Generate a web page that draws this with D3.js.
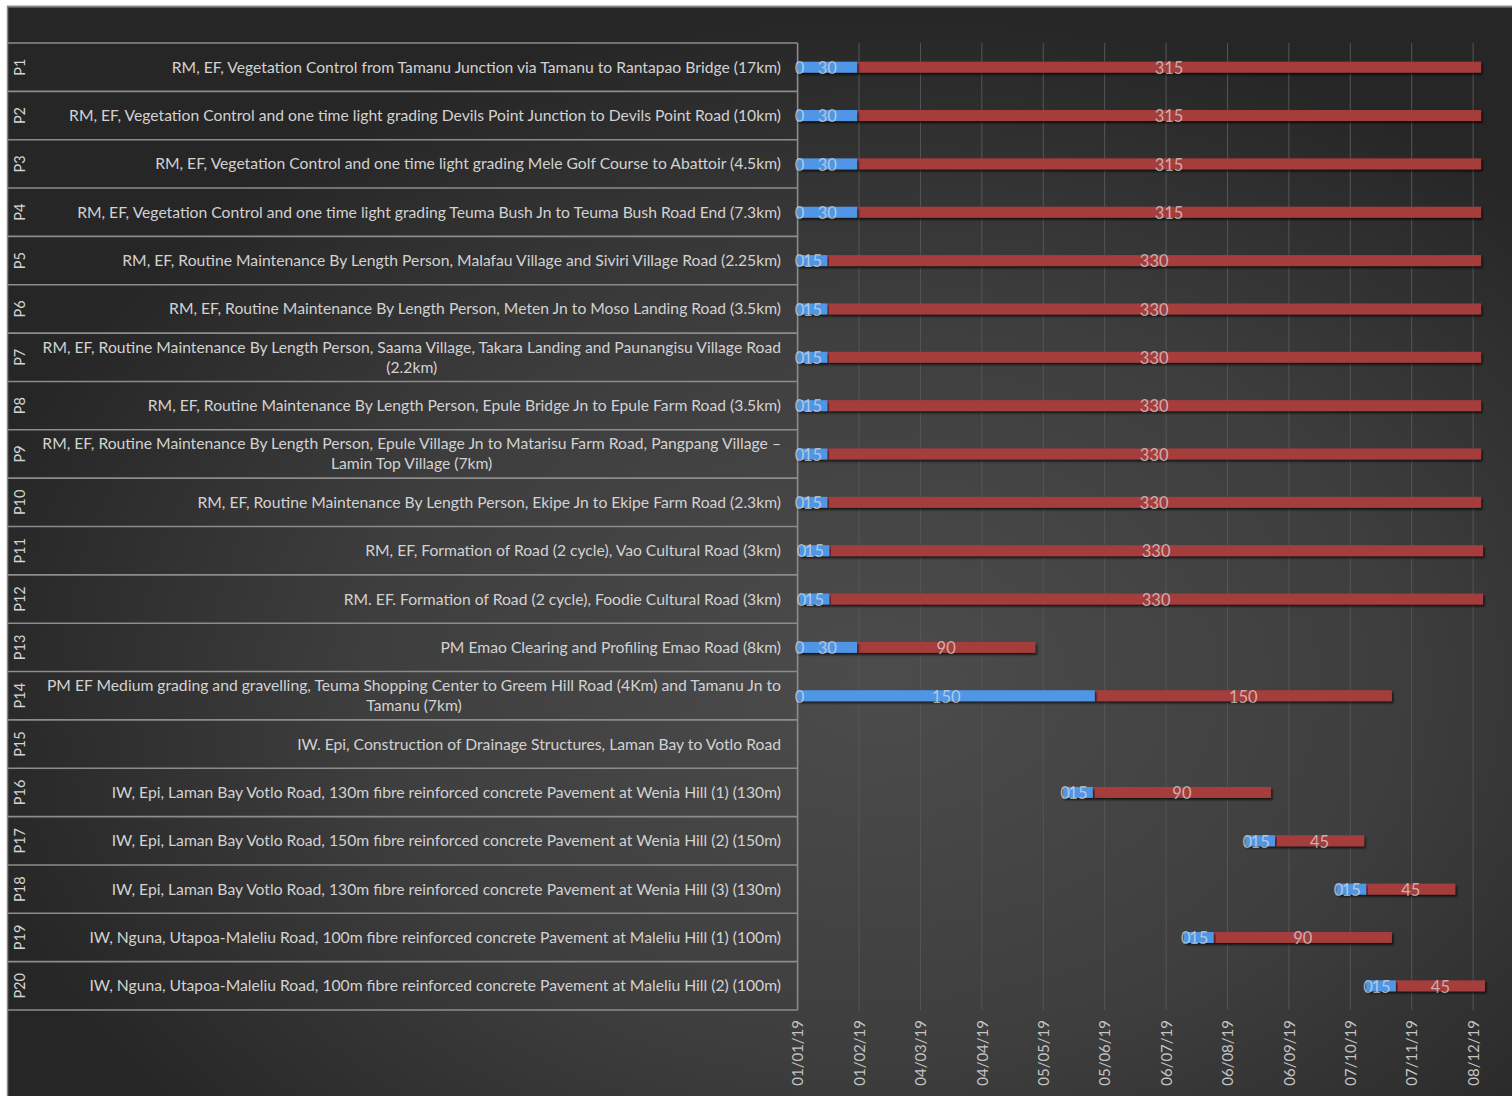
<!DOCTYPE html>
<html>
<head>
<meta charset="utf-8">
<script src="https://cdn.jsdelivr.net/npm/d3@7"></script>
<style>
  html, body { margin: 0; padding: 0; background: #ffffff; }
  svg { display: block; }
  text { font-family: Lato, "Open Sans", sans-serif; }
</style>
</head>
<body>
<svg id="chart" width="1512" height="1096"></svg>
<script>
// Project codes and task descriptions (one row each)
const codes = ["P1","P2","P3","P4","P5","P6","P7","P8","P9","P10",
               "P11","P12","P13","P14","P15","P16","P17","P18","P19","P20"];

const tasks = [
  "RM, EF, Vegetation Control from Tamanu Junction via Tamanu to Rantapao Bridge (17km)",
  "RM, EF, Vegetation Control and one time light grading Devils Point Junction to Devils Point Road (10km)",
  "RM, EF, Vegetation Control and one time light grading Mele Golf Course to Abattoir (4.5km)",
  "RM, EF, Vegetation Control and one time light grading Teuma Bush Jn to Teuma Bush Road End (7.3km)",
  "RM, EF, Routine Maintenance By Length Person, Malafau Village and Siviri Village Road (2.25km)",
  "RM, EF, Routine Maintenance By Length Person, Meten Jn to Moso Landing Road (3.5km)",
  "RM, EF, Routine Maintenance By Length Person, Saama Village, Takara Landing and Paunangisu Village Road (2.2km)",
  "RM, EF, Routine Maintenance By Length Person, Epule Bridge Jn to Epule Farm Road (3.5km)",
  "RM, EF, Routine Maintenance By Length Person, Epule Village Jn to Matarisu Farm Road, Pangpang Village \u2013 Lamin Top Village (7km)",
  "RM, EF, Routine Maintenance By Length Person, Ekipe Jn to Ekipe Farm Road (2.3km)",
  "RM, EF, Formation of Road (2 cycle), Vao Cultural Road (3km)",
  "RM. EF. Formation of Road (2 cycle), Foodie Cultural Road (3km)",
  "PM Emao Clearing and Profiling Emao Road (8km)",
  "PM EF Medium grading and gravelling, Teuma Shopping Center to Greem Hill Road (4Km) and Tamanu Jn to Tamanu (7km)",
  "IW. Epi, Construction of Drainage Structures, Laman Bay to Votlo Road",
  "IW, Epi, Laman Bay Votlo Road, 130m fibre reinforced concrete Pavement at Wenia Hill (1) (130m)",
  "IW, Epi, Laman Bay Votlo Road, 150m fibre reinforced concrete Pavement at Wenia Hill (2) (150m)",
  "IW, Epi, Laman Bay Votlo Road, 130m fibre reinforced concrete Pavement at Wenia Hill (3) (130m)",
  "IW, Nguna, Utapoa-Maleliu Road, 100m fibre reinforced concrete Pavement at Maleliu Hill (1) (100m)",
  "IW, Nguna, Utapoa-Maleliu Road, 100m fibre reinforced concrete Pavement at Maleliu Hill (2) (100m)"
];

// Start date of each task (P15 has no scheduled bar)
const startDates = ["01/01/19","01/01/19","01/01/19","01/01/19","01/01/19",
                    "01/01/19","01/01/19","01/01/19","01/01/19","01/01/19",
                    "02/01/19","02/01/19","01/01/19","01/01/19",null,
                    "15/05/19","15/08/19","30/09/19","15/07/19","15/10/19"];

// Zero-length lead-in series (labelled "0" at each bar start)
const leadDays = [0,0,0,0,0,0,0,0,0,0,0,0,0,0,null,0,0,0,0,0];

// Preparation duration in days (blue)
const prepDays = [30,30,30,30,15,15,15,15,15,15,15,15,30,150,null,15,15,15,15,15];

// Works duration in days (red)
const workDays = [315,315,315,315,330,330,330,330,330,330,330,330,90,150,null,90,45,45,90,45];

// Date axis tick labels (31-day major unit)
const tickLabels = ["01/01/19","01/02/19","04/03/19","04/04/19","05/05/19","05/06/19",
                    "06/07/19","06/08/19","06/09/19","07/10/19","07/11/19","08/12/19"];

const parse = d3.utcParse("%d/%m/%y");
const fmt = d3.utcFormat("%d/%m/%y");
const tickDates = tickLabels.map(parse);

const svg = d3.select("#chart");
const W = 1512, H = 1096;

// ---- background ----
const defs = svg.append("defs");
const grad = defs.append("radialGradient").attr("id", "bg")
  .attr("cx", "0.58").attr("cy", "0.62").attr("r", "0.62");
grad.append("stop").attr("offset", "0").attr("stop-color", "#4c4c4c");
grad.append("stop").attr("offset", "0.55").attr("stop-color", "#3e3e3e");
grad.append("stop").attr("offset", "1").attr("stop-color", "#262626");

const shadow = defs.append("filter").attr("id", "shadow")
  .attr("x", "-5%").attr("y", "-60%").attr("width", "110%").attr("height", "240%");
shadow.append("feDropShadow").attr("dx", 1.5).attr("dy", 2).attr("stdDeviation", 1.3)
  .attr("flood-color", "#000").attr("flood-opacity", 0.7);

svg.append("rect").attr("x", 7).attr("y", 6).attr("width", W - 7).attr("height", H - 6)
  .attr("fill", "url(#bg)");
// outer frame
svg.append("line").attr("x1", 7).attr("x2", W).attr("y1", 6.5).attr("y2", 6.5)
  .attr("stroke", "#8a8a8a").attr("stroke-width", 2);
svg.append("line").attr("x1", 7.5).attr("x2", 7.5).attr("y1", 6).attr("y2", H)
  .attr("stroke", "#8a8a8a").attr("stroke-width", 1.5);

// ---- scales ----
const plotTop = 43, plotBottom = 1010, axisX = 797.6, pxPerDay = 1.981;
const x = d3.scaleUtc()
  .domain([tickDates[0], tickDates[tickDates.length - 1]])
  .range([axisX, axisX + pxPerDay * d3.utcDay.count(tickDates[0], tickDates[tickDates.length - 1])]);
const y = d3.scaleBand().domain(codes).range([plotTop, plotBottom]).padding(0);

// ---- vertical gridlines + date axis ----
const xAxis = d3.axisBottom(x).tickValues(tickDates).tickFormat(fmt).tickSize(0);
const gx = svg.append("g").attr("transform", `translate(0,${plotBottom})`).call(xAxis);
gx.select(".domain").remove();
gx.selectAll(".tick text")
  .attr("transform", "rotate(-90)")
  .attr("x", -10).attr("y", 0).attr("dy", "0.35em")
  .attr("text-anchor", "end")
  .attr("fill", "#c4c4c4")
  .style("font-size", "15px")
  .style("font-family", "Lato, 'Open Sans', sans-serif");
svg.append("g").selectAll("line").data(tickDates.slice(1)).join("line")
  .attr("x1", d => x(d)).attr("x2", d => x(d))
  .attr("y1", plotTop).attr("y2", plotBottom)
  .attr("stroke", "#565656").attr("stroke-width", 1);

// ---- category table ----
const rowLines = svg.append("g");
const bounds = codes.map(c => y(c)).concat([plotBottom]);
rowLines.selectAll("line").data(bounds).join("line")
  .attr("x1", 7).attr("x2", axisX).attr("y1", d => d).attr("y2", d => d)
  .attr("stroke", "#8c8c8c").attr("stroke-width", 1.6);
svg.append("line").attr("x1", axisX).attr("x2", axisX).attr("y1", plotTop).attr("y2", plotBottom)
  .attr("stroke", "#8c8c8c").attr("stroke-width", 1.6);

const rows = svg.append("g").selectAll("g").data(codes).join("g")
  .attr("transform", c => `translate(0,${y(c) + y.bandwidth() / 2})`);

rows.append("text")
  .attr("transform", "translate(20,0) rotate(-90)")
  .attr("text-anchor", "middle").attr("dy", "0.35em")
  .attr("fill", "#d4d4d4").style("font-size", "14.5px")
  .text(c => c);

// task labels: right-aligned, wrapped lines centred on the longest line
const labelRight = 781, maxWidth = 752, lineH = 20, labelSize = "15.7px";
rows.each(function(c, i) {
  const g = d3.select(this);
  const t = g.append("text").attr("fill", "#d2d2d2").style("font-size", labelSize)
    .attr("text-anchor", "middle");
  const words = tasks[i].split(" ");
  const lines = [];
  let cur = [];
  const probe = g.append("text").style("font-size", labelSize);
  words.forEach(w => {
    const trial = cur.concat([w]).join(" ");
    probe.text(trial);
    if (cur.length && probe.node().getComputedTextLength() > maxWidth) {
      lines.push(cur.join(" "));
      cur = [w];
    } else cur.push(w);
  });
  lines.push(cur.join(" "));
  let widest = 0;
  lines.forEach(l => { probe.text(l); widest = Math.max(widest, probe.node().getComputedTextLength()); });
  probe.remove();
  const cx = labelRight - widest / 2;
  const y0 = -(lines.length - 1) * lineH / 2;
  lines.forEach((l, k) => {
    t.append("tspan").attr("x", cx).attr("y", y0 + k * lineH).attr("dy", "0.35em").text(l);
  });
});

// ---- bars ----
const barH = 11;
const addDays = (d, n) => d3.utcDay.offset(d, n);
const bars = svg.append("g");
codes.forEach((c, i) => {
  if (!startDates[i]) return;
  const s = parse(startDates[i]);
  const s0 = addDays(s, leadDays[i]);
  const s1 = addDays(s0, prepDays[i]);
  const s2 = addDays(s1, workDays[i]);
  const cy = y(c) + y.bandwidth() / 2;
  const g = bars.append("g");
  g.append("rect").attr("x", x(s1)).attr("y", cy - barH / 2)
    .attr("width", x(s2) - x(s1)).attr("height", barH)
    .attr("fill", "#a63c3c").attr("filter", "url(#shadow)");
  g.append("rect").attr("x", x(s0)).attr("y", cy - barH / 2)
    .attr("width", x(s1) - x(s0)).attr("height", barH)
    .attr("fill", "#4f96e6").attr("filter", "url(#shadow)");
  const lab = (xx, v) => g.append("text").attr("x", xx).attr("y", cy + 1)
    .attr("dy", "0.35em").attr("text-anchor", "middle")
    .attr("fill", "#dcdcdc").attr("fill-opacity", 0.72)
    .style("font-size", "16.5px").text(v);
  lab(x(s0) + 2, leadDays[i]);
  lab((x(s0) + x(s1)) / 2, prepDays[i]);
  lab((x(s1) + x(s2)) / 2, workDays[i]);
});
</script>
</body>
</html>
